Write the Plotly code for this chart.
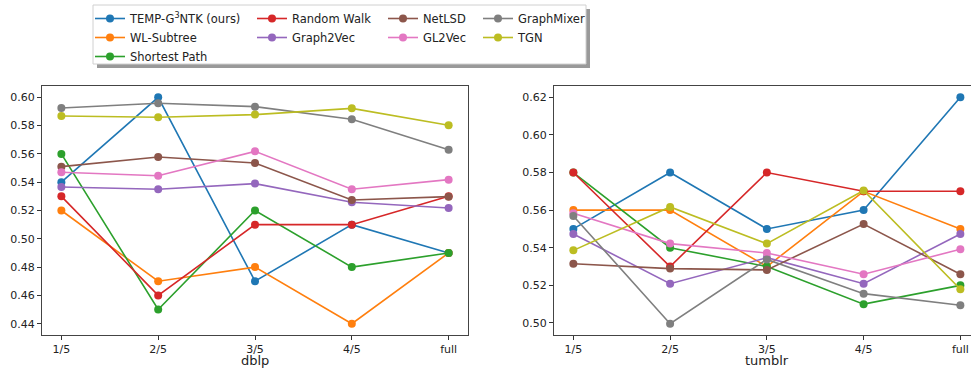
import plotly.graph_objects as go

W, H = 971, 368

categories = ["1/5", "2/5", "3/5", "4/5", "full"]

methods = ["TEMP-G<sup>3</sup>NTK (ours)", "WL-Subtree", "Shortest Path", "Random Walk",
           "Graph2Vec", "NetLSD", "GL2Vec", "GraphMixer", "TGN"]
colors = ["#1f77b4", "#ff7f0e", "#2ca02c", "#d62728", "#9467bd",
          "#8c564b", "#e377c2", "#7f7f7f", "#bcbd22"]

dblp_temp = [0.54, 0.60, 0.47, 0.51, 0.49]
dblp_wl = [0.52, 0.47, 0.48, 0.44, 0.49]
dblp_sp = [0.56, 0.45, 0.52, 0.48, 0.49]
dblp_rw = [0.53, 0.46, 0.51, 0.51, 0.53]
dblp_g2v = [0.5366, 0.535, 0.539, 0.5258, 0.5218]
dblp_netlsd = [0.551, 0.5578, 0.5536, 0.5274, 0.5298]
dblp_gl2vec = [0.547, 0.5446, 0.5618, 0.535, 0.5418]
dblp_graphmixer = [0.5925, 0.5958, 0.5934, 0.5845, 0.563]
dblp_tgn = [0.5868, 0.5859, 0.5878, 0.5922, 0.5802]

tumblr_temp = [0.55, 0.58, 0.55, 0.56, 0.62]
tumblr_wl = [0.56, 0.56, 0.53, 0.57, 0.55]
tumblr_sp = [0.58, 0.54, 0.53, 0.51, 0.52]
tumblr_rw = [0.58, 0.53, 0.58, 0.57, 0.57]
tumblr_g2v = [0.5473, 0.5209, 0.5347, 0.5209, 0.5473]
tumblr_netlsd = [0.5315, 0.5289, 0.5282, 0.5526, 0.5259]
tumblr_gl2vec = [0.5583, 0.5422, 0.5372, 0.5259, 0.5392]
tumblr_graphmixer = [0.5569, 0.4996, 0.5338, 0.5156, 0.5094]
tumblr_tgn = [0.5386, 0.5617, 0.5422, 0.5704, 0.5179]

dblp = [dblp_temp, dblp_wl, dblp_sp, dblp_rw, dblp_g2v, dblp_netlsd,
        dblp_gl2vec, dblp_graphmixer, dblp_tgn]
tumblr = [tumblr_temp, tumblr_wl, tumblr_sp, tumblr_rw, tumblr_g2v, tumblr_netlsd,
          tumblr_gl2vec, tumblr_graphmixer, tumblr_tgn]

# legend column assignment (matplotlib column-major, ncol=4)
legend_of = ["legend", "legend", "legend", "legend2", "legend2",
             "legend3", "legend3", "legend4", "legend4"]

xs = list(range(len(categories)))

fig = go.Figure()
for i, m in enumerate(methods):
    fig.add_trace(go.Scatter(
        x=xs, y=dblp[i], mode="lines+markers", name=m,
        line=dict(color=colors[i], width=1.6),
        marker=dict(color=colors[i], size=8),
        xaxis="x", yaxis="y", legend=legend_of[i], showlegend=True))
for i, m in enumerate(methods):
    fig.add_trace(go.Scatter(
        x=xs, y=tumblr[i], mode="lines+markers", name=m,
        line=dict(color=colors[i], width=1.6),
        marker=dict(color=colors[i], size=8),
        xaxis="x2", yaxis="y2", showlegend=False))

def px(x):
    return x / W

def py(y):
    return (H - y) / H

ydom = [py(335), py(86)]
axis_common = dict(showline=True, linecolor="#444", linewidth=1, mirror=True,
                   ticks="outside", ticklen=4, tickcolor="#333", showgrid=False,
                   zeroline=False, tickfont=dict(family="DejaVu Sans", size=11, color="#222"))

fig.update_layout(
    width=W, height=H,
    margin=dict(l=0, r=0, t=0, b=0, pad=0),
    paper_bgcolor="white", plot_bgcolor="white",
    font=dict(family="DejaVu Sans", size=11, color="#222"),
    xaxis=dict(domain=[px(42), px(468)], range=[-0.2, 4.2], tickvals=xs,
               ticktext=categories, anchor="y", **axis_common),
    yaxis=dict(domain=ydom, range=[0.432, 0.608], dtick=0.02, tick0=0.44,
               tickformat=".2f", anchor="x", **axis_common),
    xaxis2=dict(domain=[px(554), 1.0], range=[-0.2, 4.11], tickvals=xs,
                ticktext=categories, anchor="y2", **axis_common),
    yaxis2=dict(domain=ydom, range=[0.4936, 0.626], dtick=0.02, tick0=0.50,
                tickformat=".2f", anchor="x2", **axis_common),
)

leg_common = dict(orientation="v", bgcolor="rgba(0,0,0,0)", borderwidth=0,
                  xanchor="left", yanchor="top", itemwidth=30,
                  font=dict(family="DejaVu Sans", size=11.5, color="#222"),
                  tracegroupgap=0)
fig.update_layout(
    legend=dict(x=px(90), y=py(4), **leg_common),
    legend2=dict(x=px(252), y=py(4), **leg_common),
    legend3=dict(x=px(383), y=py(4), **leg_common),
    legend4=dict(x=px(478), y=py(4), **leg_common),
)

# legend frame with shadow
fig.add_shape(type="rect", xref="paper", yref="paper",
              x0=px(97), x1=px(590), y0=py(68), y1=py(9),
              fillcolor="rgba(0,0,0,0.4)", line=dict(width=0), layer="below")
fig.add_shape(type="rect", xref="paper", yref="paper",
              x0=px(93), x1=px(586), y0=py(64), y1=py(5),
              fillcolor="white", line=dict(color="#d0d0d0", width=1), layer="below")

fig.add_annotation(text="dblp", x=px(255), y=py(360), xref="paper", yref="paper",
                   showarrow=False, xanchor="center", yanchor="middle",
                   font=dict(family="DejaVu Sans", size=13, color="#222"))
fig.add_annotation(text="tumblr", x=px(767), y=py(360), xref="paper", yref="paper",
                   showarrow=False, xanchor="center", yanchor="middle",
                   font=dict(family="DejaVu Sans", size=13, color="#222"))

fig.write_html("out.html", config={"displayModeBar": False},
               post_script="document.body.style.margin='0';document.body.style.overflow='hidden';")
